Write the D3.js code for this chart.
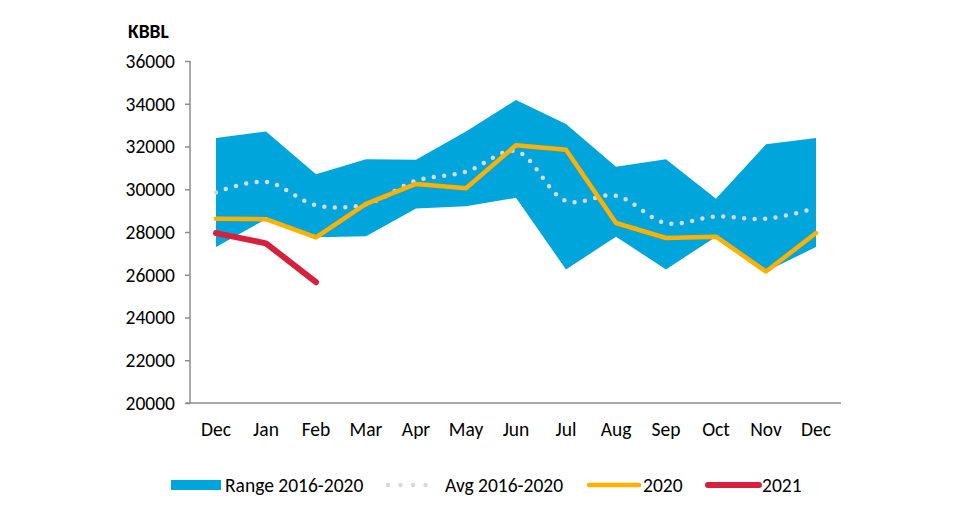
<!DOCTYPE html>
<html><head><meta charset="utf-8">
<script src="https://cdn.jsdelivr.net/npm/d3@7"></script>
<style>
html,body{margin:0;padding:0;background:#fff;}
text{font-family:Carlito,Lato,"Open Sans",sans-serif;}
</style></head>
<body>
<svg id="chart" width="980" height="522"></svg>
<script>
const months = ["Dec","Jan","Feb","Mar","Apr","May","Jun","Jul","Aug","Sep","Oct","Nov","Dec"];
const rangeHigh = [32400,32700,30700,31400,31380,32700,34180,33050,31050,31400,29550,32100,32400];
const rangeLow  = [27300,28600,27750,27800,29100,29200,29600,26250,27780,26250,27780,26150,27300];
const avg       = [29850,30350,29250,29300,30400,30820,31780,29450,29700,28420,28720,28620,29120];
const y2020     = [28620,28600,27750,29320,30250,30050,32060,31850,28420,27720,27780,26150,27950];
const y2021     = [27950,27470,25650];
const yTicks    = [20000,22000,24000,26000,28000,30000,32000,34000,36000];

const svg = d3.select("#chart");
const x = d3.scaleBand().domain(d3.range(months.length)).range([191,841]).padding(0);
const cx = i => x(i) + x.bandwidth()/2;
const y = d3.scaleLinear().domain([20000,36000]).range([403,61]);
const FS = "19.5px";

// area
svg.append("path")
  .datum(d3.range(months.length))
  .attr("fill","#00A5DB")
  .attr("d", d3.area().x(i=>cx(i)).y0(i=>y(rangeLow[i])).y1(i=>y(rangeHigh[i])));

// axes
const yAxis = svg.append("g").attr("transform","translate(190,0)")
  .call(d3.axisLeft(y).tickValues(yTicks).tickSize(5).tickPadding(10).tickFormat(d3.format("d")));
yAxis.select(".domain").attr("stroke","#8C8C8C").attr("stroke-width",1.5).attr("d","M0,61V403");
yAxis.selectAll(".tick line").attr("stroke","#8C8C8C").attr("stroke-width",1.5);
yAxis.selectAll(".tick text").attr("fill","#000").style("font-size",FS);

const xAxis = svg.append("g").attr("transform","translate(0,403)")
  .call(d3.axisBottom(x).tickSize(0).tickPadding(19).tickFormat(i=>months[i]));
xAxis.select(".domain").attr("stroke","#8C8C8C").attr("stroke-width",1.5).attr("d","M186,0H841");
xAxis.selectAll(".tick text").attr("fill","#000").style("font-size",FS);

// avg dotted
svg.append("path")
  .datum(avg)
  .attr("fill","none").attr("stroke","#D9D9D9").attr("stroke-width",4.5)
  .attr("stroke-linecap","round").attr("stroke-dasharray","0 10.5")
  .attr("d", d3.line().x((d,i)=>cx(i)).y(d=>y(d)).curve(d3.curveCatmullRom.alpha(0.5)));

// 2020
svg.append("path")
  .datum(y2020)
  .attr("fill","none").attr("stroke","#FFB000").attr("stroke-width",4.5)
  .attr("stroke-linejoin","round").attr("stroke-linecap","round")
  .attr("d", d3.line().x((d,i)=>cx(i)).y(d=>y(d)));

// 2021
svg.append("path")
  .datum(y2021)
  .attr("fill","none").attr("stroke","#D7203B").attr("stroke-width",6)
  .attr("stroke-linejoin","round").attr("stroke-linecap","round")
  .attr("d", d3.line().x((d,i)=>cx(i)).y(d=>y(d)));

// unit label
svg.append("text").attr("x",128).attr("y",38).style("font-size",FS).style("font-weight","bold").text("KBBL");

// legend
const ly = 485;
const lg = svg.append("g");
lg.append("rect").attr("x",171).attr("y",ly-5).attr("width",50).attr("height",10).attr("fill","#00A5DB");
lg.append("text").attr("x",225).attr("y",ly+6.5).style("font-size",FS).text("Range 2016-2020");
lg.append("line").attr("x1",388).attr("x2",438).attr("y1",ly).attr("y2",ly)
  .attr("stroke","#D9D9D9").attr("stroke-width",4.5).attr("stroke-linecap","round").attr("stroke-dasharray","0 12.5");
lg.append("text").attr("x",445).attr("y",ly+6.5).style("font-size",FS).text("Avg 2016-2020");
lg.append("line").attr("x1",589).attr("x2",639).attr("y1",ly).attr("y2",ly)
  .attr("stroke","#FFB000").attr("stroke-width",4.5).attr("stroke-linecap","round");
lg.append("text").attr("x",643).attr("y",ly+6.5).style("font-size",FS).text("2020");
lg.append("line").attr("x1",708).attr("x2",759).attr("y1",ly).attr("y2",ly)
  .attr("stroke","#D7203B").attr("stroke-width",6).attr("stroke-linecap","round");
lg.append("text").attr("x",762).attr("y",ly+6.5).style("font-size",FS).text("2021");
</script>
</body></html>
